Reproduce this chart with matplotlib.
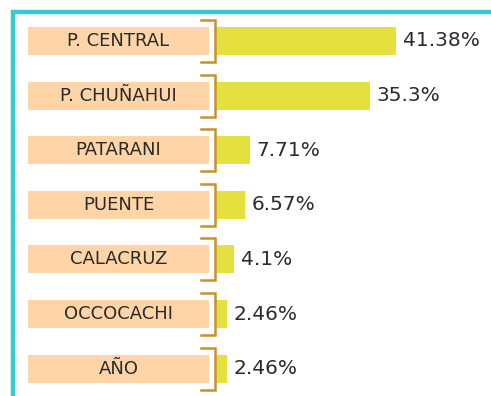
import matplotlib.pyplot as plt
from matplotlib.patches import Rectangle
import matplotlib.transforms as mtransforms

# share of each community (percent)
communities = ['P. CENTRAL', 'P. CHUÑAHUI', 'PATARANI', 'PUENTE',
               'CALACRUZ', 'OCCOCACHI', 'AÑO']
shares = [41.38, 35.3, 7.71, 6.57, 4.1, 2.46, 2.46]
share_labels = ['41.38%', '35.3%', '7.71%', '6.57%', '4.1%', '2.46%', '2.46%']

bar_color = '#E3E040'
box_color = '#FFD5A8'
bracket_color = '#C8922A'
frame_color = '#33CCCC'
text_color = '#2A2A2A'

W, H = 491, 396
fig = plt.figure(figsize=(W / 100, H / 100), dpi=100)
ax = fig.add_axes([0, 0, 1, 1])

# x: zero at 216 px, 4.35 px per percent; rows 54.6 px apart, first centred at 41 px
px_per_pct = 4.35
ax.set_xlim(-216 / px_per_pct, (W - 216) / px_per_pct)
ax.set_ylim((H - 41) / 54.6, -41 / 54.6)
ax.axis('off')

rows = list(range(len(communities)))
ax.barh(rows, shares, height=0.51, color=bar_color, zorder=2)

for y, val, lab in zip(rows, shares, share_labels):
    ax.annotate(lab, (val, y), xytext=(5, 0), textcoords='offset points',
                ha='left', va='center', fontsize=14.5, color=text_color)

# label boxes and brackets on the left (x in axes fraction)
trans = mtransforms.blended_transform_factory(ax.transAxes, ax.transData)
box_x0, box_x1 = 28 / W, 209 / W
br_x0, br_x1 = 201 / W, 215 / W
for y, name in zip(rows, communities):
    ax.add_patch(Rectangle((box_x0, y - 0.255), box_x1 - box_x0, 0.51,
                           transform=trans, facecolor=box_color,
                           edgecolor='none', zorder=1))
    ax.text((box_x0 + box_x1) / 2, y, name, transform=trans, ha='center',
            va='center', fontsize=13, color=text_color, zorder=3)
    ax.plot([br_x0, br_x1, br_x1, br_x0], [y - 0.385, y - 0.385, y + 0.385, y + 0.385],
            transform=trans, color=bracket_color, lw=1.8, zorder=3,
            solid_joinstyle='miter', clip_on=False)

# teal frame, open to the right and bottom
fig.add_artist(Rectangle((13 / W, -0.1), 1.2, (H - 11.5) / H + 0.1,
                         transform=fig.transFigure, fill=False,
                         edgecolor=frame_color, lw=3.2))

fig.savefig('out.png', dpi=100)
